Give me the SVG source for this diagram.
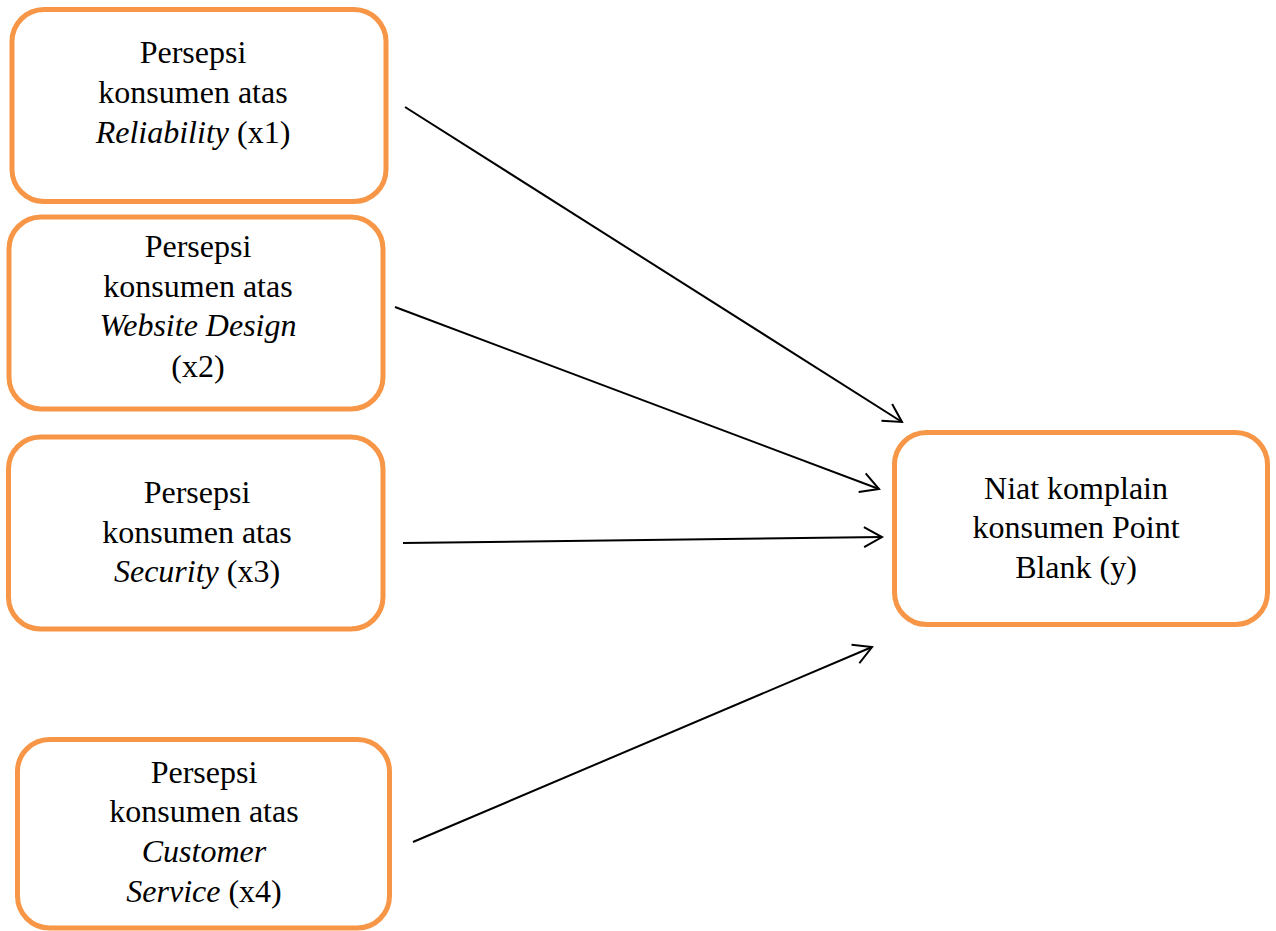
<svg xmlns="http://www.w3.org/2000/svg" width="1276" height="931" viewBox="0 0 1276 931">
<style>
.box{fill:#fff;stroke:#F79646;stroke-width:5}
.t{font-family:"Liberation Serif","Times New Roman",serif;font-size:32px;fill:#000;text-anchor:middle}
.i{font-style:italic}
.c{fill:none;stroke:#000;stroke-width:2}
</style>
<defs>
<marker id="arr" markerWidth="24" markerHeight="24" refX="20" refY="12" orient="auto" markerUnits="userSpaceOnUse" viewBox="0 0 24 24">
<path d="M2,2 L20,12 L2,22" fill="none" stroke="#000" stroke-width="2"/>
</marker>
</defs>
<rect width="1276" height="931" fill="#fff"/>
<g id="connectors">
<line class="c" x1="405" y1="107" x2="902" y2="422" marker-end="url(#arr)"/>
<line class="c" x1="395" y1="307" x2="879" y2="489" marker-end="url(#arr)"/>
<line class="c" x1="403" y1="543" x2="882" y2="537" marker-end="url(#arr)"/>
<line class="c" x1="413" y1="842" x2="872" y2="647" marker-end="url(#arr)"/>
</g>
<g id="x1">
<rect class="box" x="12" y="9.5" width="374" height="192" rx="32"/>
<text class="t" x="193" y="63">Persepsi</text>
<text class="t" x="193" y="103">konsumen atas</text>
<text class="t" x="193" y="143"><tspan class="i">Reliability</tspan> (x1)</text>
</g>
<g id="x2">
<rect class="box" x="9" y="217" width="374" height="192" rx="32"/>
<text class="t" x="198" y="257">Persepsi</text>
<text class="t" x="198" y="297">konsumen atas</text>
<text class="t i" x="198" y="336">Website Design</text>
<text class="t" x="198" y="377">(x2)</text>
</g>
<g id="x3">
<rect class="box" x="8.5" y="437" width="374.5" height="192" rx="32"/>
<text class="t" x="197" y="503">Persepsi</text>
<text class="t" x="197" y="543">konsumen atas</text>
<text class="t" x="197" y="582"><tspan class="i">Security</tspan> (x3)</text>
</g>
<g id="x4">
<rect class="box" x="17.5" y="739.5" width="372" height="188.5" rx="32"/>
<text class="t" x="204" y="783">Persepsi</text>
<text class="t" x="204" y="822">konsumen atas</text>
<text class="t i" x="204" y="862">Customer</text>
<text class="t" x="204" y="902"><tspan class="i">Service</tspan> (x4)</text>
</g>
<g id="y">
<rect class="box" x="894.5" y="432.5" width="373" height="192" rx="32"/>
<text class="t" x="1076" y="499">Niat komplain</text>
<text class="t" x="1076" y="538">konsumen Point</text>
<text class="t" x="1076" y="578">Blank (y)</text>
</g>
</svg>
